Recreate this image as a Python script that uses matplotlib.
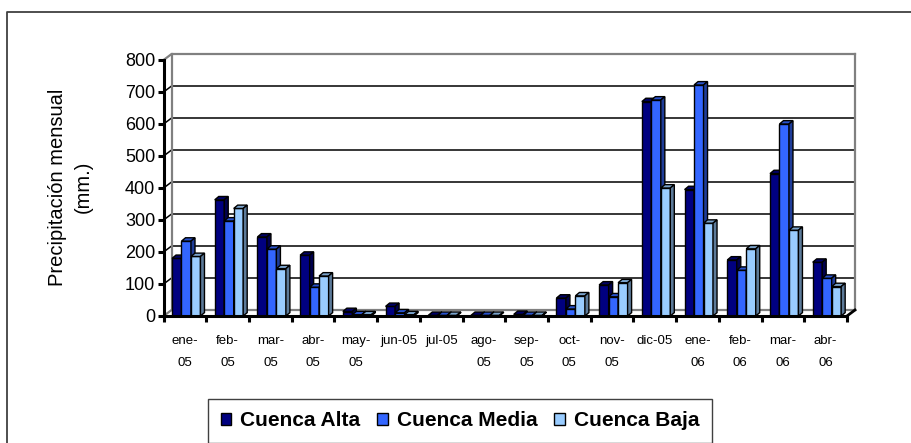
#%% Imports

import numpy as np
import matplotlib.pyplot as plt
from matplotlib.patches import Polygon, Patch
from matplotlib.lines import Line2D

#%% Data

months = ["ene-\n05", "feb-\n05", "mar-\n05", "abr-\n05", "may-\n05", "jun-05",
          "jul-05", "ago-\n05", "sep-\n05", "oct-\n05", "nov-\n05", "dic-05",
          "ene-\n06", "feb-\n06", "mar-\n06", "abr-\n06"]
alta = [180, 363, 247, 190, 14, 30, 2, 2, 5, 56, 97, 670, 395, 175, 445, 168]
media = [234, 297, 209, 90, 4, 10, 2, 2, 2, 22, 60, 675, 722, 143, 600, 118]
baja = [186, 336, 148, 125, 4, 4, 2, 2, 2, 63, 104, 400, 290, 210, 268, 92]
series_names = ["Cuenca Alta", "Cuenca Media", "Cuenca Baja"]
yticks = [0, 100, 200, 300, 400, 500, 600, 700, 800]

#%% Style

colors = ["#000080", "#3366FF", "#99CCFF"]
plt.rcParams['font.family'] = ['Liberation Sans', 'DejaVu Sans']

W, H = 912, 443
n = len(months)
bw = 0.222          # bar width (category units)
g0 = 0.197          # group offset inside category
wall_dx, wall_dy = 0.187, 18.75   # back wall depth
bar_dx, bar_dy = 0.094, 10.5      # bar depth


def shade(c, f):
    rgb = np.array(plt.matplotlib.colors.to_rgb(c))
    return tuple(rgb * f)


#%% Figure

fig = plt.figure(figsize=(W / 100, H / 100), dpi=100)
ax = fig.add_axes([163.6 / W, (H - 316) / H, 683.4 / W, 256 / H])
ax.set_xlim(0, n)
ax.set_ylim(0, 800)

# back wall + gridlines
for y in yticks:
    col = "#808080" if y in (0, 800) else "black"
    lw = 1.6 if y in (0, 800) else 1.1
    ax.plot([0, wall_dx, n + wall_dx], [y, y + wall_dy, y + wall_dy],
            color=col, lw=lw, clip_on=False, zorder=1)
ax.plot([wall_dx, wall_dx], [wall_dy, 800 + wall_dy], color="#808080", lw=1.6, clip_on=False, zorder=1)
ax.plot([n + wall_dx, n + wall_dx], [wall_dy, 800 + wall_dy], color="#808080", lw=1.6, clip_on=False, zorder=1)
ax.plot([n, n + wall_dx], [0, wall_dy], color="black", lw=2, clip_on=False, zorder=1)

# bars with fake depth
for j, vals in enumerate([alta, media, baja]):
    x = np.arange(n) + g0 + j * bw
    c = colors[j]
    ax.bar(x, vals, width=bw, align='edge', color=c, edgecolor='black', lw=1.0,
           zorder=3 + j, clip_on=False)
    for xi, v in zip(x, vals):
        top = Polygon([(xi, v), (xi + bar_dx, v + bar_dy), (xi + bw + bar_dx, v + bar_dy), (xi + bw, v)],
                      closed=True, fc=shade(c, 0.8), ec='black', lw=1.0, zorder=3 + j, clip_on=False)
        side = Polygon([(xi + bw, 0), (xi + bw + bar_dx, bar_dy), (xi + bw + bar_dx, v + bar_dy), (xi + bw, v)],
                       closed=True, fc=shade(c, 0.6), ec='black', lw=1.0, zorder=3 + j, clip_on=False)
        ax.add_patch(top)
        ax.add_patch(side)

# axes
for s in ["top", "right"]:
    ax.spines[s].set_visible(False)
for s in ["left", "bottom"]:
    ax.spines[s].set_linewidth(2.2)
    ax.spines[s].set_zorder(10)
ax.set_yticks(yticks)
ax.tick_params(axis='y', width=2.2, length=4, labelsize=13, pad=2)
ax.set_xticks(np.arange(n + 1))
ax.set_xticklabels([])
ax.tick_params(axis='x', which='major', width=2.2, length=4)
ax.set_xticks(np.arange(n) + 0.5, minor=True)
ax.set_xticklabels(months, minor=True, fontsize=9.5, linespacing=2.1, va='top')
ax.tick_params(axis='x', which='minor', length=0, pad=13.5)

fig.text(70 / W, 1 - 187 / H, "Precipitación mensual\n(mm.)", rotation=90,
         ha='center', va='center', fontsize=14.5, linespacing=1.45, multialignment='center')

handles = [Patch(facecolor=colors[i], edgecolor='black', lw=1.0, label=series_names[i]) for i in range(3)]
leg = fig.legend(handles=handles, loc='center', bbox_to_anchor=(460 / W, 1 - 421 / H), ncol=3,
                 frameon=True, fancybox=False, edgecolor='#404040', framealpha=1,
                 prop={'weight': 'bold', 'size': 15}, handlelength=0.5, handleheight=0.5,
                 handletextpad=0.45, columnspacing=0.8, borderpad=0.6, borderaxespad=0)
leg.get_frame().set_linewidth(1.0)

# outer border (only top and left visible in the picture)
fig.add_artist(Line2D([7 / W, 7 / W, 1], [0, 1 - 12 / H, 1 - 12 / H], transform=fig.transFigure,
                      color='#404040', lw=1.3))

plt.savefig("out.png", dpi=100)
